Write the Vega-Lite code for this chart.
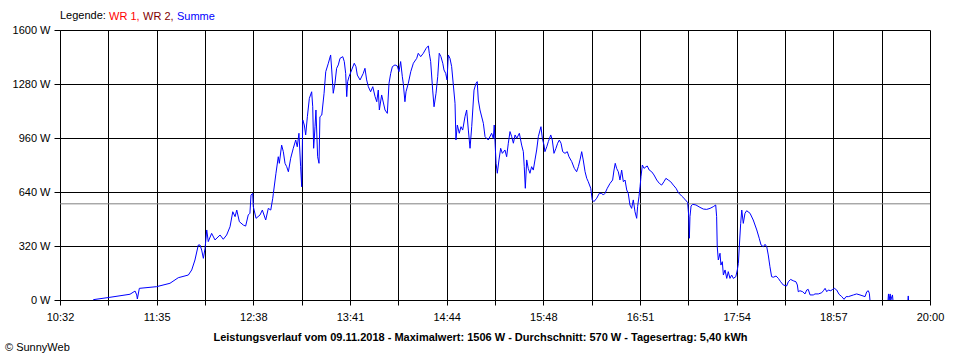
{
  "$schema": "https://vega.github.io/schema/vega-lite/v6.json",
  "width": 870,
  "height": 270,
  "autosize": {"type": "none"},
  "padding": {"left": 60, "top": 30, "right": 30, "bottom": 60},
  "background": "white",
  "config": {
    "font": "Liberation Sans",
    "view": {"stroke": null},
    "axis": {"labelFont": "Liberation Sans", "titleFont": "Liberation Sans"},
    "legend": {"labelFont": "Liberation Sans", "titleFont": "Liberation Sans"},
    "title": {"font": "Liberation Sans"}
  },
  "title": {
    "text": "© SunnyWeb",
    "orient": "bottom",
    "anchor": "start",
    "frame": "group",
    "dx": -55,
    "offset": 0,
    "fontSize": 11,
    "fontWeight": "normal",
    "color": "black"
  },
  "layer": [
    {
      "data": {"values": [{"avg": 570}]},
      "mark": {"type": "rule", "color": "#808080", "strokeWidth": 1},
      "encoding": {"y": {"field": "avg", "type": "quantitative"}}
    },
    {
      "data": {"values": [
        {"t":653.7,"w":2},{"t":664.6,"w":16},{"t":677.7,"w":34},{"t":681.0,"w":53},{"t":682.1,"w":30},{"t":682.5,"w":6},{"t":683.8,"w":69},{"t":695.1,"w":79},{"t":703.8,"w":99},{"t":709.2,"w":132},
        {"t":715.8,"w":148},{"t":718.0,"w":178},{"t":720.1,"w":237},{"t":722.3,"w":326},{"t":723.4,"w":326},{"t":724.5,"w":296},{"t":725.6,"w":247},{"t":726.7,"w":306},{"t":727.8,"w":415},{"t":728.8,"w":346},
        {"t":731.0,"w":395},{"t":733.2,"w":356},{"t":736.5,"w":385},{"t":738.6,"w":360},{"t":740.8,"w":385},{"t":743.0,"w":434},{"t":744.8,"w":523},{"t":746.3,"w":494},{"t":747.4,"w":533},{"t":749.1,"w":464},
        {"t":751.7,"w":444},{"t":753.2,"w":438},{"t":754.9,"w":504},{"t":756.0,"w":514},{"t":756.7,"w":622},{"t":757.8,"w":632},{"t":758.2,"w":553},{"t":760.0,"w":484},{"t":762.6,"w":504},{"t":764.1,"w":533},
        {"t":766.3,"w":474},{"t":768.0,"w":543},{"t":769.6,"w":533},{"t":770.9,"w":603},{"t":771.3,"w":632},{"t":773.0,"w":751},{"t":774.5,"w":849},{"t":775.2,"w":810},{"t":776.7,"w":918},{"t":777.8,"w":879},
        {"t":778.9,"w":810},{"t":780.0,"w":790},{"t":781.1,"w":760},{"t":782.6,"w":840},{"t":784.3,"w":899},{"t":785.9,"w":948},{"t":786.9,"w":908},{"t":788.0,"w":988},{"t":789.1,"w":790},{"t":789.8,"w":671},
        {"t":790.5,"w":1067},{"t":791.5,"w":1037},{"t":792.4,"w":978},{"t":793.5,"w":1086},{"t":794.8,"w":1195},{"t":796.3,"w":1234},{"t":797.0,"w":1145},{"t":797.6,"w":899},{"t":798.5,"w":1027},{"t":799.1,"w":1126},
        {"t":800.2,"w":849},{"t":801.1,"w":810},{"t":801.7,"w":1086},{"t":802.9,"w":1096},{"t":804.4,"w":1225},{"t":805.5,"w":1353},{"t":807.2,"w":1403},{"t":808.7,"w":1452},{"t":809.4,"w":1363},{"t":810.4,"w":1225},
        {"t":811.5,"w":1284},{"t":812.6,"w":1373},{"t":813.7,"w":1393},{"t":814.8,"w":1432},{"t":816.6,"w":1442},{"t":817.6,"w":1413},{"t":818.5,"w":1343},{"t":819.2,"w":1205},{"t":819.8,"w":1294},{"t":820.7,"w":1323},
        {"t":822.4,"w":1363},{"t":824.1,"w":1403},{"t":825.2,"w":1383},{"t":826.1,"w":1333},{"t":827.9,"w":1304},{"t":830.0,"w":1343},{"t":831.1,"w":1373},{"t":832.2,"w":1304},{"t":833.3,"w":1264},{"t":834.8,"w":1234},
        {"t":836.2,"w":1264},{"t":837.7,"w":1205},{"t":838.8,"w":1175},{"t":839.8,"w":1244},{"t":840.5,"w":1126},{"t":842.0,"w":1215},{"t":844.2,"w":1126},{"t":845.7,"w":1106},{"t":846.8,"w":1284},{"t":847.9,"w":1343},
        {"t":849.0,"w":1383},{"t":850.7,"w":1393},{"t":852.2,"w":1387},{"t":853.3,"w":1353},{"t":854.4,"w":1413},{"t":855.5,"w":1323},{"t":856.1,"w":1284},{"t":857.2,"w":1175},{"t":857.9,"w":1234},{"t":859.4,"w":1284},
        {"t":861.0,"w":1353},{"t":862.7,"w":1403},{"t":864.9,"w":1432},{"t":865.9,"w":1462},{"t":867.5,"w":1442},{"t":869.2,"w":1462},{"t":871.0,"w":1491},{"t":872.5,"w":1506},{"t":873.1,"w":1462},{"t":874.0,"w":1413},
        {"t":875.3,"w":1244},{"t":876.2,"w":1145},{"t":877.5,"w":1225},{"t":878.6,"w":1323},{"t":879.6,"w":1462},{"t":880.7,"w":1442},{"t":881.9,"w":1403},{"t":882.7,"w":1363},{"t":883.8,"w":1343},{"t":884.7,"w":1304},
        {"t":885.5,"w":1452},{"t":886.6,"w":1432},{"t":887.7,"w":1383},{"t":888.8,"w":1274},{"t":889.9,"w":1166},{"t":890.5,"w":948},{"t":891.4,"w":1037},{"t":892.7,"w":988},{"t":893.8,"w":1027},{"t":894.9,"w":1007},
        {"t":896.4,"w":1086},{"t":897.5,"w":1126},{"t":898.6,"w":1007},{"t":899.7,"w":899},{"t":900.8,"w":1027},{"t":902.3,"w":1244},{"t":903.6,"w":1284},{"t":904.4,"w":1294},{"t":905.1,"w":1185},{"t":906.2,"w":1126},
        {"t":908.4,"w":1047},{"t":909.5,"w":968},{"t":911.6,"w":948},{"t":913.8,"w":988},{"t":914.9,"w":958},{"t":915.5,"w":1037},{"t":916.7,"w":810},{"t":917.5,"w":751},{"t":918.6,"w":830},{"t":919.7,"w":899},
        {"t":920.8,"w":869},{"t":922.5,"w":889},{"t":923.6,"w":849},{"t":924.7,"w":929},{"t":925.8,"w":998},{"t":926.9,"w":968},{"t":928.0,"w":929},{"t":929.1,"w":978},{"t":930.2,"w":958},{"t":931.9,"w":988},
        {"t":933.4,"w":918},{"t":934.5,"w":879},{"t":935.1,"w":790},{"t":935.8,"w":662},{"t":936.7,"w":830},{"t":937.7,"w":780},{"t":938.8,"w":751},{"t":939.9,"w":790},{"t":941.0,"w":770},{"t":942.1,"w":830},
        {"t":943.2,"w":889},{"t":944.3,"w":968},{"t":945.4,"w":1007},{"t":946.0,"w":1027},{"t":946.9,"w":958},{"t":948.0,"w":918},{"t":948.6,"w":879},{"t":949.8,"w":908},{"t":950.8,"w":938},{"t":952.4,"w":978},
        {"t":953.4,"w":948},{"t":954.5,"w":869},{"t":955.8,"w":899},{"t":956.9,"w":929},{"t":958.0,"w":948},{"t":959.1,"w":929},{"t":960.2,"w":879},{"t":961.7,"w":869},{"t":963.2,"w":879},{"t":964.3,"w":849},
        {"t":966.1,"w":820},{"t":967.8,"w":780},{"t":969.3,"w":760},{"t":970.4,"w":790},{"t":971.5,"w":830},{"t":972.6,"w":879},{"t":973.6,"w":830},{"t":974.8,"w":760},{"t":975.9,"w":721},{"t":976.9,"w":701},
        {"t":978.5,"w":662},{"t":979.5,"w":593},{"t":980.6,"w":583},{"t":982.4,"w":603},{"t":984.1,"w":632},{"t":985.7,"w":632},{"t":986.7,"w":622},{"t":987.8,"w":632},{"t":989.3,"w":662},{"t":991.1,"w":691},
        {"t":992.8,"w":711},{"t":993.7,"w":770},{"t":994.5,"w":810},{"t":995.4,"w":780},{"t":996.5,"w":760},{"t":997.6,"w":711},{"t":998.7,"w":770},{"t":999.8,"w":701},{"t":1000.9,"w":711},{"t":1002.0,"w":652},
        {"t":1003.0,"w":632},{"t":1004.1,"w":563},{"t":1005.2,"w":543},{"t":1006.3,"w":593},{"t":1007.4,"w":523},{"t":1008.5,"w":484},{"t":1009.1,"w":553},{"t":1010.0,"w":612},{"t":1010.7,"w":671},{"t":1011.3,"w":731},
        {"t":1012.2,"w":800},{"t":1013.3,"w":780},{"t":1014.6,"w":790},{"t":1015.4,"w":794},{"t":1016.7,"w":770},{"t":1018.3,"w":760},{"t":1019.8,"w":741},{"t":1021.6,"w":711},{"t":1023.3,"w":691},{"t":1024.8,"w":681},
        {"t":1026.3,"w":701},{"t":1027.6,"w":721},{"t":1029.1,"w":711},{"t":1030.7,"w":701},{"t":1032.4,"w":681},{"t":1034.2,"w":662},{"t":1035.7,"w":636},{"t":1037.9,"w":616},{"t":1040.0,"w":597},{"t":1041.8,"w":577},
        {"t":1042.5,"w":494},{"t":1042.9,"w":366},{"t":1043.3,"w":494},{"t":1044.0,"w":557},{"t":1045.1,"w":567},{"t":1047.2,"w":563},{"t":1049.8,"w":549},{"t":1052.0,"w":539},{"t":1054.2,"w":537},{"t":1056.4,"w":543},
        {"t":1058.5,"w":553},{"t":1060.1,"w":563},{"t":1060.7,"w":494},{"t":1061.1,"w":316},{"t":1061.8,"w":237},{"t":1062.9,"w":277},{"t":1063.5,"w":207},{"t":1064.4,"w":227},{"t":1065.1,"w":148},{"t":1066.2,"w":178},
        {"t":1067.3,"w":128},{"t":1068.3,"w":168},{"t":1069.4,"w":128},{"t":1070.5,"w":148},{"t":1071.6,"w":128},{"t":1073.2,"w":138},{"t":1074.2,"w":178},{"t":1074.9,"w":217},{"t":1075.5,"w":316},{"t":1076.4,"w":454},
        {"t":1077.1,"w":533},{"t":1078.1,"w":454},{"t":1079.2,"w":514},{"t":1080.3,"w":529},{"t":1082.5,"w":514},{"t":1084.6,"w":474},{"t":1086.9,"w":415},{"t":1088.5,"w":366},{"t":1089.7,"w":326},{"t":1091.2,"w":316},
        {"t":1092.3,"w":330},{"t":1093.4,"w":316},{"t":1094.4,"w":267},{"t":1095.5,"w":197},{"t":1096.6,"w":138},{"t":1097.7,"w":135},{"t":1099.5,"w":142},{"t":1101.0,"w":128},{"t":1102.5,"w":108},{"t":1104.2,"w":89},
        {"t":1106.4,"w":83},{"t":1107.5,"w":108},{"t":1109.0,"w":122},{"t":1110.7,"w":114},{"t":1112.5,"w":108},{"t":1113.4,"w":89},{"t":1114.0,"w":49},{"t":1115.1,"w":55},{"t":1116.9,"w":49},{"t":1118.4,"w":36},
        {"t":1119.5,"w":59},{"t":1120.5,"w":63},{"t":1121.7,"w":30},{"t":1123.8,"w":30},{"t":1124.9,"w":36},{"t":1127.1,"w":36},{"t":1129.3,"w":43},{"t":1130.4,"w":55},{"t":1131.5,"w":69},{"t":1132.6,"w":49},
        {"t":1133.6,"w":59},{"t":1135.2,"w":55},{"t":1136.5,"w":63},{"t":1137.6,"w":69},{"t":1139.1,"w":59},{"t":1140.6,"w":34},{"t":1142.4,"w":20},{"t":1143.9,"w":4},{"t":1145.2,"w":20},{"t":1146.7,"w":20},
        {"t":1150.0,"w":30},{"t":1152.1,"w":36},{"t":1154.3,"w":30},{"t":1157.6,"w":20},{"t":1158.7,"w":49},{"t":1159.7,"w":55},{"t":1160.4,"w":40},{"t":1160.8,"w":0},{"t":1166.0,"w":null},
        {"t":1172.6,"w":0},{"t":1172.9,"w":36},{"t":1173.3,"w":0},{"t":1174.0,"w":36},{"t":1174.4,"w":0},{"t":1175.5,"w":30},{"t":1175.8,"w":0},{"t":1180.0,"w":null},
        {"t":1185.6,"w":0},{"t":1185.8,"w":24},{"t":1186.0,"w":0}
      ]},
      "mark": {"type": "line", "strokeWidth": 1, "interpolate": "linear"},
      "encoding": {
        "x": {
          "field": "t",
          "type": "quantitative",
          "scale": {"domain": [632, 1200], "nice": false, "zero": false},
          "axis": {
            "values": [632, 663.5556, 695.1111, 726.6667, 758.2222, 789.7778, 821.3333, 852.8889, 884.4444, 916, 947.5556, 979.1111, 1010.6667, 1042.2222, 1073.7778, 1105.3333, 1136.8889, 1168.4444, 1200],
            "labelExpr": "(round((datum.value-632)/31.5556)%2==0) ? (floor(round(datum.value)/60) + ':' + (round(datum.value)%60 < 10 ? '0' : '') + (round(datum.value)%60)) : ''",
            "grid": true,
            "gridColor": "black",
            "gridOpacity": 1,
            "gridWidth": 1,
            "domainColor": "black",
            "domainWidth": 1,
            "tickColor": "black",
            "tickSize": 5,
            "tickWidth": 1,
            "labelPadding": 6,
            "labelFontSize": 11,
            "labelColor": "black",
            "labelFlush": false,
            "labelOverlap": false,
            "title": "Leistungsverlauf vom 09.11.2018 - Maximalwert: 1506 W - Durchschnitt: 570 W - Tagesertrag: 5,40 kWh",
            "titleFontSize": 11,
            "titleFontWeight": "bold",
            "titleColor": "black",
            "titleX": 420,
            "titleY": 40,
            "titleAlign": "center",
            "titleBaseline": "alphabetic"
          }
        },
        "y": {
          "field": "w",
          "type": "quantitative",
          "scale": {"domain": [0, 1600], "nice": false},
          "axis": {
            "values": [0, 320, 640, 960, 1280, 1600],
            "labelExpr": "datum.value + ' W'",
            "grid": true,
            "gridColor": "black",
            "gridOpacity": 1,
            "gridWidth": 1,
            "domainColor": "black",
            "tickColor": "black",
            "tickSize": 6,
            "labelPadding": 4,
            "labelFontSize": 11,
            "labelColor": "black",
            "labelOverlap": false,
            "title": null
          }
        },
        "color": {
          "datum": "Summe",
          "scale": {"domain": ["WR 1", "WR 2", "Summe"], "range": ["#ff0000", "#800000", "#0000ff"]},
          "legend": {
            "orient": "top",
            "direction": "horizontal",
            "title": "Legende:",
            "titleOrient": "left",
            "titleFontSize": 11,
            "titleFontWeight": "normal",
            "titleColor": "black",
            "titlePadding": 4,
            "labelFontSize": 11,
            "symbolSize": 0,
            "symbolOpacity": 0,
            "symbolStrokeWidth": 0,
            "symbolType": "circle",
            "labelOffset": -12,
            "columnPadding": 3,
            "offset": 8,
            "labelExpr": "datum.label == 'Summe' ? 'Summe' : datum.label + ','",
            "encode": {
              "labels": {"update": {"fill": {"signal": "datum.value == 'WR 1' ? '#ff0000' : datum.value == 'WR 2' ? '#800000' : '#0000ff'"}}}
            }
          }
        }
      }
    }
  ]
}
